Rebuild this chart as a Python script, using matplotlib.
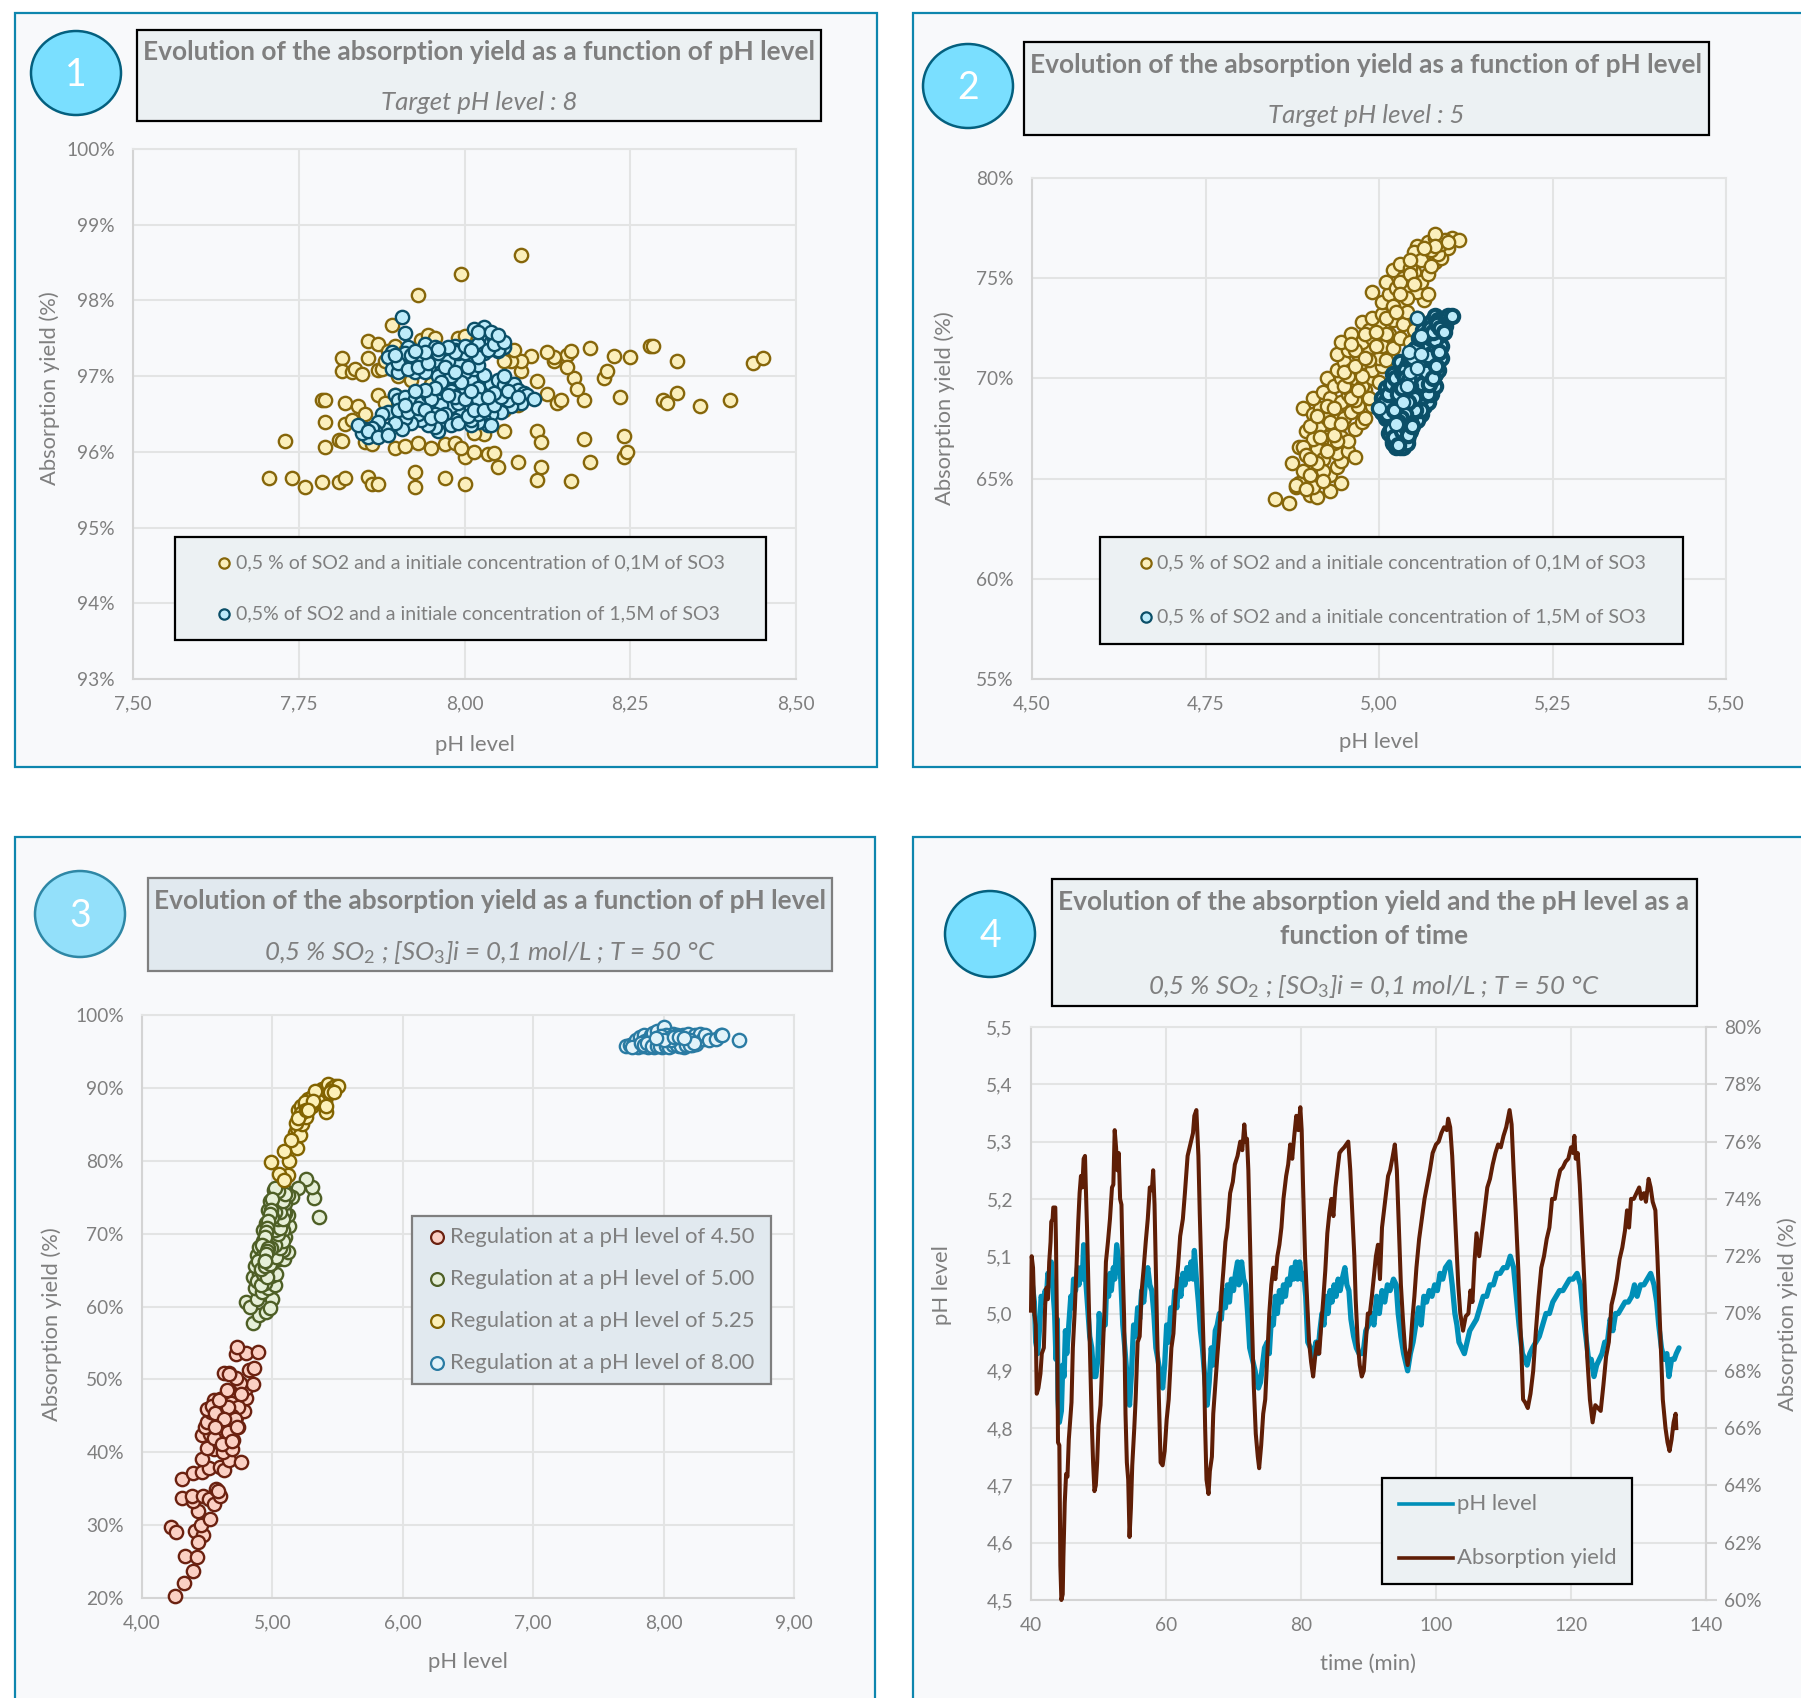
import numpy as np
import matplotlib
matplotlib.use('Agg')
import matplotlib.pyplot as plt
from matplotlib.patches import Rectangle, Ellipse

plt.rcParams['font.family'] = ['Lato', 'DejaVu Sans']
plt.rcParams['mathtext.fontset'] = 'custom'
plt.rcParams['mathtext.rm'] = 'Lato'
plt.rcParams['mathtext.it'] = 'Lato:italic'

W, H = 1801, 1698
GREY = '#7F7F7F'

# chart 1 : target pH 8
p1_low = [(8.085,98.6),(7.995,98.35),(7.93,98.07),(7.705,95.66),(7.74,95.65),(7.76,95.53),(7.785,95.6),(7.81,95.6),
    (7.82,95.65),(7.855,95.67),(7.86,95.58),(7.87,95.58),(7.925,95.53),(7.925,95.73),(7.97,95.65),(8.0,95.57),
    (8.11,95.63),(8.16,95.62),(8.115,95.8),(8.05,95.8),(8.08,95.87),(8.19,95.87),(8.24,95.93),(8.245,96.0),
    (8.0,95.93),(8.015,96.0),(8.035,95.97),(8.045,95.98),(7.73,96.14),(7.79,96.07),(7.81,96.16),(7.815,96.15),
    (7.79,96.4),(7.82,96.37),(7.785,96.69),(7.79,96.69),(7.82,96.65),(7.84,96.6),(7.87,96.75),(7.895,96.75),
    (7.85,96.13),(7.86,96.1),(7.895,96.05),(7.91,96.08),(7.93,96.12),(7.95,96.05),(7.97,96.11),(7.985,96.12),
    (7.995,96.05),(8.11,96.27),(8.115,96.13),(8.18,96.17),(8.24,96.21),(8.03,96.24),(8.06,96.27),(8.015,96.25),
    (8.11,96.94),(8.125,96.77),(8.14,96.64),(8.145,96.68),(8.18,96.69),(8.165,96.97),(8.17,96.83),(8.21,96.97),
    (8.215,97.07),(8.235,96.73),(8.3,96.69),(8.305,96.64),(8.32,96.78),(8.355,96.6),(8.4,96.68),(8.435,97.18),
    (8.45,97.24),(8.32,97.2),(8.28,97.4),(8.285,97.4),(8.25,97.25),(8.225,97.26),(8.19,97.37),(8.155,97.28),
    (8.16,97.33),(8.135,97.2),(8.135,97.25),(8.155,97.12),(8.125,97.32),(8.1,97.26),(8.085,97.07),(8.085,97.2),
    (8.07,97.2),(8.075,97.35),(8.06,97.2),(7.815,97.24),(7.815,97.07),(7.83,97.05),(7.835,97.1),(7.845,97.03),
    (7.855,97.24),(7.855,97.46),(7.87,97.43),(7.87,97.08),(7.875,97.1),(7.88,97.2),(7.885,97.33),(7.895,97.4),
    (7.89,97.67),(7.91,97.33),(7.935,97.48),(7.945,97.54),(7.955,97.5),(7.99,97.5),(8.0,97.53),(8.02,97.5),
    (7.83,96.42),(7.85,96.5),(7.88,96.65),(8.06,96.55),(8.08,96.62),(8.03,96.62),(7.9,97.0),(7.92,96.95),(7.95,96.9)]
p1_high = [(7.905,97.78),(7.91,97.57),(7.915,97.38),(7.89,97.32),(7.885,97.25),(7.89,97.1),(7.9,97.05),(7.905,97.2),
    (7.91,97.3),(7.92,97.15),(7.925,97.05),(7.93,97.22),(7.935,97.35),(7.94,97.42),(7.95,97.3),(7.955,97.1),
    (7.96,97.2),(7.965,97.05),(7.97,97.35),(7.98,97.28),(7.985,97.4),(7.99,97.25),(7.995,97.15),(8.0,97.3),
    (8.005,97.38),(8.01,97.2),(8.015,97.32),(8.02,97.42),(8.025,97.6),(8.03,97.65),(8.035,97.55),(8.04,97.45),
    (8.045,97.5),(8.05,97.48),(8.055,97.42),(8.06,97.38),(8.05,97.33),(8.03,97.3),(8.015,97.62),(8.02,97.58),
    (7.895,96.75),(7.9,96.68),(7.91,96.72),(7.92,96.6),(7.925,96.7),(7.935,96.65),(7.945,96.75),(7.95,96.6),
    (7.96,96.78),(7.965,96.85),(7.975,96.9),(7.97,97.0),(7.98,96.8),(7.99,96.75),(8.0,96.85),(8.01,96.95),
    (8.02,96.85),(8.03,97.0),(8.04,96.9),(8.05,96.95),(8.06,96.88),(8.07,96.85),(8.075,96.9),(8.08,96.82),
    (8.09,96.78),(8.095,96.75),(8.105,96.7),(8.085,96.65),(8.07,96.6),(8.065,96.68),(8.055,96.52),(8.04,96.5),
    (8.03,96.42),(8.035,96.35),(8.02,96.4),(8.01,96.35),(8.0,96.6),(7.995,96.5),(7.985,96.42),(7.975,96.55),
    (7.97,96.4),(7.96,96.28),(7.955,96.33),(7.945,96.35),(7.935,96.42),(7.93,96.5),(7.92,96.38),(7.91,96.45),
    (7.905,96.3),(7.895,96.38),(7.885,96.52),(7.875,96.5),(7.88,96.3),(7.87,96.4),(7.865,96.27),(7.86,96.32),
    (7.855,96.2),(7.85,96.3),(7.845,96.25),(7.84,96.35),(7.855,96.28),(7.87,96.2),(7.885,96.22),
    (7.98,96.6),(7.99,96.65),(8.01,96.58),(8.02,96.7),(7.985,96.72),(7.965,96.62),(7.955,96.5),
    (7.96,97.0),(7.98,97.15),(8.0,97.05),(8.015,97.1),(8.03,97.02),(7.975,96.75),(7.95,96.7),(7.97,96.5),
    (8.01,96.42),(8.04,96.35),(8.0,96.7),(8.02,97.15),(7.99,97.2),(7.975,97.2),(7.94,97.05),(7.96,97.3),
    (7.935,97.25),(7.92,97.28),(7.99,97.3),(7.985,97.35),(8.0,97.3),(8.05,97.35),(8.06,97.0),(8.02,96.5),
    (7.9,96.55),(7.915,96.52),(7.93,96.58),(7.94,96.55),(7.95,96.45),(7.965,96.48),(7.98,96.36),(7.99,96.38),
    (8.005,96.48),(8.015,96.55),(8.03,96.55),(8.045,96.62),(8.055,96.72),(8.065,96.8),(8.08,96.72),(8.045,96.78),
    (8.035,96.72),(8.01,96.8),(7.995,96.92),(7.98,97.0),(7.965,96.92),(7.955,96.85),(7.94,96.82),(7.925,96.8),
    (7.91,96.62),(7.9,97.18),(7.895,97.28),(7.915,97.1),(7.93,97.12),(7.945,97.18),(7.955,97.38),(7.97,97.12),
    (7.985,97.05),(8.005,97.12),(8.02,97.25),(8.035,97.35),(8.045,97.42),(8.06,97.45),(8.04,97.58),(8.05,97.55),
    (7.985,97.32),(8.0,97.4),(8.01,97.35),(7.975,97.38),(7.96,97.36),(7.94,97.32),(7.925,97.33)]

# chart 2 : target pH 5
p2_low = [(4.85,64.0),(4.87,63.8),(4.88,64.6),(4.885,64.8),(4.9,64.2),(4.91,64.1),(4.905,64.6),(4.93,64.4),(4.945,64.8),
    (4.875,65.8),(4.89,65.4),(4.9,65.2),(4.915,65.6),(4.93,65.2),(4.94,65.6),(4.945,65.9),(4.885,66.6),(4.9,66.2),
    (4.91,66.5),(4.92,66.0),(4.93,66.7),(4.94,66.3),(4.955,66.4),(4.965,66.1),(4.895,67.4),(4.905,67.0),(4.915,67.6),
    (4.925,67.1),(4.935,66.8),(4.945,67.1),(4.955,66.9),(4.965,67.5),(4.975,67.8),(4.89,68.5),(4.905,68.2),(4.915,68.5),
    (4.925,68.0),(4.93,68.6),(4.94,68.2),(4.95,68.0),(4.96,68.3),(4.97,68.6),(4.98,68.0),(4.99,68.6),(4.905,69.0),
    (4.92,69.3),(4.93,69.0),(4.945,68.8),(4.955,69.2),(4.965,68.9),(4.98,69.4),(4.925,70.0),(4.935,69.6),(4.945,70.0),
    (4.955,69.5),(4.965,70.0),(4.975,69.6),(4.99,70.0),(5.0,69.8),(4.94,70.4),(4.95,70.8),(4.96,70.4),(4.975,70.8),
    (4.99,70.4),(5.005,70.6),(4.94,71.2),(4.955,71.4),(4.97,71.2),(4.985,71.5),(5.0,71.0),(5.01,70.9),(4.945,71.8),
    (4.96,72.2),(4.975,71.8),(4.99,72.0),(5.005,71.6),(5.02,71.5),(4.975,72.8),(4.985,72.4),(5.0,72.6),(5.015,72.2),
    (5.03,72.0),(5.045,71.8),(4.99,73.0),(5.005,73.2),(5.02,72.9),(5.035,72.7),(5.05,72.4),(4.99,74.3),(5.005,73.8),
    (5.015,74.2),(5.03,73.6),(5.04,73.3),(5.055,73.0),(5.065,73.9),(5.01,74.8),(5.025,74.5),(5.04,74.4),(5.055,74.3),
    (5.07,74.2),(5.02,75.4),(5.035,75.0),(5.05,75.3),(5.06,74.8),(5.07,75.2),(5.03,75.7),(5.045,75.5),(5.06,76.2),
    (5.055,76.6),(5.07,76.0),(5.08,75.8),(5.09,76.0),(5.1,76.5),(5.085,76.2),(5.07,76.8),(5.08,77.0),(5.09,76.7),
    (5.105,77.0),(5.115,76.9),(5.095,76.9),(5.08,77.2),(4.94,66.9),(4.93,67.8),(4.935,67.2),(4.92,65.4),(4.91,65.8),
    (4.9,67.6),(4.89,66.6),(4.88,64.7),(4.895,66.2),(4.915,67.1),(4.925,68.6),(4.95,69.6),(4.955,70.1),(4.965,71.4),
    (4.975,70.1),(4.985,70.9),(4.995,71.6),(5.01,72.2),(5.02,73.6),(5.03,74.8),(5.045,75.2),(5.05,76.3),(5.06,75.9),
    (5.075,76.4),(5.08,76.6),(4.895,64.5),(4.92,64.9),(4.9,66.0),(4.925,66.4),(4.945,67.7),(4.91,68.1),(4.935,68.5),
    (4.96,69.0),(4.97,69.4),(4.985,69.0),(4.95,70.3),(4.965,70.6),(4.98,71.0),(4.96,71.7),(4.98,72.2),(4.995,72.3),
    (5.01,73.0),(5.025,73.3),(5.04,74.0),(5.05,74.7),(5.03,74.2),(5.045,75.9),(5.065,76.5),(5.075,75.6),(5.1,76.8)]
p2_high = [(5.0,68.5),(5.005,69.0),(5.01,68.0),(5.01,69.5),(5.015,67.3),(5.015,68.6),(5.02,66.8),(5.02,67.8),(5.02,69.4),
    (5.02,70.2),(5.025,66.6),(5.025,67.4),(5.025,68.6),(5.03,66.6),(5.03,67.6),(5.03,69.0),(5.03,70.8),(5.035,66.8),
    (5.035,68.0),(5.035,69.8),(5.04,67.0),(5.04,67.8),(5.04,68.6),(5.04,69.6),(5.04,70.6),(5.045,67.4),(5.045,68.4),
    (5.045,69.2),(5.045,70.2),(5.05,68.0),(5.05,68.8),(5.05,69.8),(5.05,70.8),(5.05,71.4),(5.055,68.2),(5.055,69.0),
    (5.055,69.6),(5.055,70.4),(5.055,71.0),(5.06,68.2),(5.06,68.8),(5.06,69.4),(5.06,70.2),(5.06,71.6),(5.065,68.6),
    (5.065,69.2),(5.065,70.0),(5.065,70.6),(5.065,71.2),(5.065,71.8),(5.07,68.8),(5.07,69.4),(5.07,70.0),(5.07,70.8),
    (5.07,71.6),(5.07,72.4),(5.075,69.2),(5.075,69.8),(5.075,70.4),(5.075,71.2),(5.075,72.0),(5.075,72.8),(5.08,69.6),
    (5.08,70.2),(5.08,70.8),(5.08,71.4),(5.08,72.2),(5.08,72.6),(5.08,73.1),(5.085,70.4),(5.085,71.0),(5.085,71.8),
    (5.085,72.4),(5.085,72.9),(5.09,71.0),(5.09,71.6),(5.09,72.2),(5.09,72.7),(5.095,72.6),(5.095,72.9),(5.1,73.1),
    (5.105,73.1),(5.02,68.2),(5.025,69.8),(5.03,68.4),(5.035,67.2),(5.035,69.2),(5.04,69.0),(5.045,67.8),(5.05,69.4),
    (5.055,67.9),(5.06,69.0),(5.07,69.2),(5.075,70.6),(5.03,67.1),(5.04,70.0),(5.05,70.4),(5.06,70.7),(5.07,71.1),
    (5.08,71.9),(5.09,72.4),(5.015,68.0),(5.025,68.0),(5.02,66.9),(5.035,66.6),(5.03,66.9),(5.04,66.8),(5.045,68.0),
    (5.01,68.4),(5.015,69.0),(5.005,68.3),(5.04,68.3),(5.035,68.8),(5.06,68.4),
    (5.012,68.2),(5.018,67.5),(5.022,67.1),(5.028,66.7),(5.033,67.4),(5.037,67.6),(5.042,67.2),(5.048,67.6),(5.052,68.4),
    (5.008,68.8),(5.013,69.2),(5.018,69.7),(5.023,70.0),(5.028,69.4),(5.033,70.3),(5.038,70.4),(5.043,70.9),(5.048,71.0),
    (5.053,71.5),(5.058,72.0),(5.063,72.4),(5.068,72.2),(5.073,72.5),(5.078,72.3),(5.083,72.7),(5.088,72.5),(5.093,72.3),
    (5.058,70.0),(5.062,69.7),(5.068,70.3),(5.072,69.7),(5.078,70.0),(5.082,70.6),(5.087,71.3),(5.05,69.0),(5.045,69.6),
    (5.042,68.8),(5.038,68.2),(5.032,68.0),(5.027,67.8),(5.022,68.4),(5.028,69.2),(5.033,69.5),(5.038,70.0),(5.043,69.9)]
p2_high_top = [(5.0,68.5),(5.025,67.7),(5.04,69.6),(5.035,68.8),(5.045,70.3),(5.043,71.3),(5.055,70.5),(5.06,71.2),(5.06,72.1),(5.055,73.0)]

# chart 3 : regulation at 4 pH levels
p3_450 = [(4.25,20.3),(4.32,22.0),(4.39,23.7),(4.33,25.7),(4.42,25.6),(4.22,29.8),(4.26,29.0),(4.41,29.2),(4.47,28.6),
    (4.43,27.7),(4.45,30.0),(4.52,30.8),(4.43,31.9),(4.31,33.7),(4.39,33.3),(4.38,34.0),(4.47,34.0),(4.51,33.6),
    (4.55,32.9),(4.6,34.0),(4.57,35.0),(4.58,34.7),(4.31,36.3),(4.39,37.1),(4.46,37.3),(4.51,37.8),(4.6,38.0),
    (4.63,37.5),(4.67,39.0),(4.76,38.7),(4.46,39.1),(4.55,40.5),(4.5,40.6),(4.62,40.0),(4.69,40.4),(4.7,41.7),
    (4.6,41.3),(4.46,42.4),(4.52,42.5),(4.56,43.5),(4.52,43.8),(4.48,43.4),(4.58,42.6),(4.64,44.5),(4.72,44.9),
    (4.74,43.5),(4.72,43.5),(4.69,43.3),(4.5,44.2),(4.53,45.5),(4.5,46.0),(4.55,47.2),(4.6,45.9),(4.6,47.3),
    (4.65,48.1),(4.7,47.7),(4.68,46.8),(4.76,45.6),(4.78,45.7),(4.8,47.5),(4.8,48.8),(4.85,49.3),(4.75,49.5),
    (4.72,50.2),(4.67,50.9),(4.63,50.9),(4.67,50.8),(4.82,51.3),(4.86,51.5),(4.72,53.5),(4.8,53.6),(4.73,54.4),
    (4.89,53.7),(4.62,43.8),(4.66,42.8),(4.74,46.2),(4.58,44.8),(4.64,45.6),(4.55,42.0),(4.69,45.0),(4.76,48.0),
    (4.62,46.4),(4.54,46.3),(4.66,46.2),(4.71,44.6),(4.59,47.2),(4.65,48.5),(4.56,45.4),(4.63,44.5),(4.56,43.5),
    (4.61,41.2),(4.69,41.6),(4.73,43.4)]
p3_500 = [(5.36,72.3),(5.32,74.9),(5.3,76.4),(5.26,77.5),(5.2,76.3),(5.15,75.0),(4.85,57.8),(4.9,58.8),(4.95,59.2),
    (4.8,60.6),(4.83,60.0),(4.88,61.0),(5.0,61.0),(4.98,59.8),(4.87,62.5),(4.92,62.0),(4.97,62.5),(5.02,63.0),
    (4.85,64.0),(4.9,64.5),(4.94,63.2),(4.99,64.2),(5.03,64.5),(4.87,65.5),(4.92,66.0),(4.96,65.2),(5.0,66.0),
    (5.05,66.5),(5.09,66.5),(5.12,67.5),(4.88,67.0),(4.92,67.5),(4.96,67.2),(5.0,67.5),(5.04,68.0),(5.08,67.8),
    (5.1,69.5),(5.13,71.0),(4.9,68.2),(4.93,69.0),(4.97,68.8),(5.01,69.2),(5.05,69.5),(5.08,70.5),(5.12,72.5),
    (4.93,70.5),(4.96,70.2),(5.0,70.5),(5.03,71.0),(5.07,71.5),(5.1,72.8),(4.95,71.5),(4.98,72.0),(5.01,72.5),
    (5.05,72.5),(5.09,73.0),(4.97,73.2),(5.0,73.5),(5.03,73.8),(5.06,74.0),(5.1,74.2),(4.98,74.5),(5.02,75.0),
    (5.05,75.2),(5.08,75.5),(5.12,75.3),(5.01,76.0),(5.05,76.3),(5.08,76.2),(5.03,75.5),(5.05,74.8),(5.07,74.8),
    (5.02,74.2),(5.04,73.2),(5.01,71.5),(4.99,70.8),(4.98,70.2),(4.97,69.5),(4.96,69.0),(4.95,68.5),(4.94,67.8),
    (4.93,67.0),(5.0,71.2),(5.02,72.0),(4.98,71.0),(4.97,70.5),(4.96,70.0),(4.955,69.2),(4.95,68.0),(4.94,66.8),
    (4.88,63.5),(4.91,63.0),(4.93,64.5),(4.96,64.0),(4.89,66.2),(4.91,65.2),(4.94,65.5),(4.98,65.8),(5.03,66.8),
    (5.06,68.0),(5.08,69.0),(5.02,68.5),(4.99,68.0),(5.04,70.0),(5.02,70.5),(5.06,70.8),(5.04,72.0),(5.08,72.0),
    (5.06,73.0),(5.02,73.0),(5.0,72.3),(5.04,74.5),(5.06,75.5),(5.08,74.5),(5.1,75.5),(5.04,75.8),(5.02,76.2),
    (5.0,74.8),(4.99,73.2),(4.98,72.7),(4.97,71.8),(4.96,70.8),(4.95,70.2),(4.94,69.5),(4.93,68.3),(4.92,68.5),
    (4.97,68.0),(4.96,67.6),(4.95,67.2),(4.94,66.2),(4.945,66.3)]
p3_525 = [(5.19,81.7),(5.17,83.8),(5.19,84.5),(5.21,83.5),(5.23,85.0),(5.18,85.2),(5.21,86.0),(5.26,86.0),(5.2,87.0),
    (5.22,87.5),(5.25,87.8),(5.28,87.5),(5.3,87.5),(5.33,88.0),(5.27,88.5),(5.3,88.8),(5.34,89.0),(5.36,89.5),(5.38,89.8),
    (5.4,90.0),(5.43,90.5),(5.46,90.0),(5.48,90.2),(5.5,90.2),(5.45,89.6),(5.42,89.0),(5.38,88.8),(5.41,86.7),(5.4,88.2),
    (5.35,88.2),(5.33,89.6),(5.44,89.5),(5.47,89.5),(5.25,88.0),(5.24,86.8),(5.22,86.5),(5.2,85.8),(5.31,88.2),(5.26,87.0),
    (5.13,80.0),(5.12,78.0),(5.09,81.4),(5.14,82.8),(5.05,78.2),(5.09,77.3),(4.99,79.8),(5.27,86.9),(5.41,87.5)]
p3_800 = [(7.71,95.7),(7.74,95.9),(7.77,96.2),(7.79,96.6),(7.8,95.6),(7.82,97.0),(7.84,95.7),(7.85,97.2),(7.86,96.5),
    (7.88,95.6),(7.9,97.2),(7.92,97.5),(7.93,95.6),(7.95,97.8),(7.97,96.5),(7.99,95.6),(8.0,98.35),(8.01,96.2),
    (8.03,97.0),(8.05,95.8),(8.07,97.4),(8.08,96.0),(8.1,97.3),(8.12,95.7),(8.13,96.6),(8.15,97.3),(8.16,95.6),
    (8.18,96.2),(8.19,97.4),(8.22,95.9),(8.24,97.3),(8.25,96.0),(8.28,97.4),(8.3,96.7),(8.32,97.2),(8.35,96.6),
    (8.4,96.7),(8.44,97.2),(8.45,97.25),(8.58,96.6),(7.76,95.6),(7.83,96.1),(7.9,96.0),(7.94,96.2),(8.0,95.9),
    (8.04,96.4),(8.09,96.4),(8.14,96.1),(8.2,96.6),(8.02,97.3),(7.98,97.1),(8.06,97.0),(7.85,95.9),(7.87,96.1),
    (7.91,95.7),(7.95,95.8),(7.97,95.7),(8.02,95.7),(8.04,95.6),(8.07,95.9),(8.1,95.9),(8.13,95.8),(8.17,95.9),
    (8.2,95.9),(8.23,96.1),(8.06,96.6),(8.0,96.6),(7.94,96.8),(8.08,97.0),(8.12,97.0),(8.16,96.9)]

# chart 4 : time series
ph_level = [(40.0,5.00),(40.2,5.05),(40.5,5.02),(40.7,4.95),(41.0,4.93),(41.3,4.98),(41.5,5.03),(41.8,5.02),(42.1,5.04),
    (42.3,5.03),(42.5,5.07),(42.7,5.05),(43.0,5.09),(43.2,5.05),(43.5,5.0),(43.7,4.92),(43.9,4.99),(44.0,4.85),(44.2,4.81),(44.5,4.83),
    (44.7,4.91),(44.9,4.89),(45.1,4.97),(45.3,4.93),(45.6,4.98),(45.9,5.03),(46.1,5.01),(46.3,5.06),(46.6,5.04),(46.9,5.08),(47.1,5.05),
    (47.4,5.08),(47.6,5.06),(47.8,5.12),(48.1,5.06),(48.4,5.01),(48.7,4.96),(49.0,4.94),(49.3,4.89),(49.6,4.89),(49.9,4.92),(50.1,5.0),
    (50.4,4.95),(50.7,4.98),(51.0,4.98),(51.2,5.05),(51.5,5.03),(51.7,5.07),(51.9,5.04),(52.2,5.08),(52.4,5.06),(52.7,5.12),(53.0,5.09),
    (53.3,5.06),(53.6,4.98),(53.9,4.94),(54.3,4.88),(54.6,4.84),(54.9,4.9),(55.2,4.98),(55.5,4.96),(55.8,5.01),(56.1,4.99),
    (56.4,5.04),(56.7,5.02),(57.0,5.06),(57.3,5.08),(57.6,5.05),(57.9,5.04),(58.2,5.0),(58.5,4.94),(58.8,4.92),(59.2,4.89),
    (59.5,4.87),(59.8,4.91),(60.1,4.98),(60.4,4.95),(60.7,5.01),(61.0,4.99),(61.3,5.04),(61.6,5.01),(61.9,5.06),(62.2,5.03),
    (62.5,5.07),(62.8,5.05),(63.1,5.08),(63.4,5.06),(63.7,5.09),(64.0,5.06),(64.2,5.11),(64.5,5.06),(64.8,5.02),(65.1,4.97),
    (65.4,4.94),(65.8,4.88),(66.1,4.84),(66.4,4.88),(66.7,4.94),(67.0,4.91),(67.3,4.97),(67.6,4.98),(67.9,5.0),(68.2,4.99),
    (68.5,5.04),(68.8,5.01),(69.1,5.05),(69.4,5.02),(69.7,5.06),(70.0,5.04),(70.3,5.07),(70.6,5.09),(70.8,5.05),(71.2,5.09),
    (71.5,5.06),(71.8,5.05),(72.1,5.0),(72.4,4.94),(72.8,4.92),(73.2,4.9),(73.7,4.87),(74.0,4.88),(74.3,4.91),(74.6,4.94),
    (75.0,4.95),(75.3,4.93),(75.6,4.99),(75.9,4.98),(76.2,5.03),(76.5,5.0),(76.8,5.04),(77.1,5.02),(77.4,5.05),(77.7,5.03),
    (78.0,5.06),(78.3,5.05),(78.6,5.08),(78.9,5.06),(79.2,5.09),(79.5,5.06),(79.8,5.09),(80.1,5.06),(80.4,5.07),(80.7,5.03),
    (81.0,4.95),(81.4,4.94),(81.8,4.92),(82.2,4.95),(82.5,4.93),(82.8,4.97),(83.1,5.0),(83.4,4.98),(83.7,5.03),(84.0,5.0),
    (84.3,5.04),(84.6,5.02),(84.9,5.05),(85.2,5.03),(85.5,5.06),(85.8,5.04),(86.1,5.06),(86.5,5.08),(86.8,5.05),(87.1,5.04),
    (87.4,4.99),(87.8,4.96),(88.2,4.94),(88.6,4.93),(89.0,4.93),(89.3,4.94),(89.6,4.97),(90.0,4.98),(90.4,5.0),(90.8,4.98),
    (91.2,5.03),(91.6,5.0),(92.0,5.04),(92.4,5.02),(92.8,5.05),(93.2,5.04),(93.7,5.06),(94.1,5.05),(94.4,5.0),(94.8,4.96),
    (95.2,4.93),(95.6,4.91),(95.8,4.9),(96.2,4.93),(96.6,4.95),(97.0,4.98),(97.4,5.01),(97.8,4.98),(98.2,5.03),(98.6,5.02),
    (99.0,5.04),(99.4,5.03),(99.8,5.05),(100.2,5.04),(100.6,5.07),(101.0,5.06),(101.4,5.08),(102.0,5.09),(102.4,5.05),
    (102.8,5.0),(103.1,4.98),(103.4,4.95),(103.8,4.94),(104.2,4.93),(104.6,4.95),(105.0,4.97),(105.5,4.98),(106.0,4.99),
    (106.5,5.01),(107.0,5.03),(107.5,5.03),(108.0,5.05),(108.5,5.05),(109.0,5.07),(109.5,5.07),(110.0,5.08),(110.5,5.08),
    (111.0,5.1),(111.5,5.08),(111.9,5.03),(112.3,4.98),(112.8,4.93),(113.2,4.92),(113.5,4.91),(113.9,4.93),(114.3,4.94),
    (114.8,4.95),(115.3,4.96),(115.8,4.98),(116.3,5.0),(116.8,5.0),(117.3,5.02),(117.8,5.03),(118.3,5.04),(118.8,5.04),
    (119.3,5.05),(119.8,5.06),(120.3,5.06),(120.9,5.07),(121.4,5.05),(121.8,5.0),(122.2,4.96),(122.6,4.92),(123.0,4.92),
    (123.4,4.89),(123.8,4.91),(124.2,4.92),(124.6,4.93),(125.0,4.95),(125.4,4.95),(125.8,4.99),(126.2,4.97),(126.6,5.0),
    (127.0,5.0),(127.5,5.01),(128.0,5.02),(128.5,5.02),(129.0,5.03),(129.4,5.05),(129.8,5.03),(130.3,5.05),(130.8,5.05),
    (131.3,5.06),(131.8,5.07),(132.3,5.05),(132.7,5.02),(133.0,4.98),(133.4,4.94),(133.8,4.92),(134.2,4.93),(134.5,4.89),
    (134.9,4.92),(135.3,4.92),(135.6,4.93),(136.0,4.94)]
abs_yield = [(40.0,70.1),(40.1,72.0),(40.3,71.6),(40.5,70.0),(40.7,69.6),(40.85,67.2),(41.1,67.4),(41.4,67.9),(41.6,68.6),
    (41.9,68.8),(42.1,70.3),(42.3,70.9),(42.5,70.5),(42.7,71.8),(42.9,72.5),(43.0,73.2),(43.2,73.3),(43.3,73.7),(43.6,73.7),
    (43.7,72.5),(43.8,70.5),(43.9,68.5),(44.0,65.5),(44.2,65.4),(44.35,61.2),(44.5,60.0),(44.7,60.2),(44.8,61.5),(45.0,63.4),
    (45.2,64.4),(45.4,64.3),(45.6,65.6),(46.0,66.9),(46.2,68.8),(46.5,70.2),(46.8,72.0),(47.0,73.2),(47.2,74.2),(47.4,74.8),
    (47.6,74.4),(47.8,75.4),(48.0,75.5),(48.1,74.6),(48.3,73.0),(48.5,71.0),(48.7,69.0),(49.0,66.2),(49.2,64.8),(49.4,63.8),
    (49.6,64.0),(49.8,64.8),(50.0,66.1),(50.3,66.8),(50.6,68.5),(50.9,70.2),(51.1,71.8),(51.4,72.5),(51.7,73.3),(52.0,74.4),
    (52.2,74.5),(52.4,76.4),(52.6,75.8),(52.8,75.0),(53.0,75.6),(53.2,74.0),(53.4,73.8),(53.6,71.5),(53.8,69.8),(54.0,66.5),
    (54.2,64.8),(54.4,64.2),(54.6,62.2),(54.8,63.2),(55.0,64.7),(55.3,66.0),(55.5,67.0),(55.8,69.0),(56.1,69.2),(56.4,70.8),
    (56.7,71.6),(57.0,72.5),(57.3,73.3),(57.6,74.4),(57.9,74.3),(58.1,75.0),(58.3,73.8),(58.5,71.5),(58.7,69.2),(59.0,66.6),
    (59.2,64.8),(59.5,64.7),(59.8,65.2),(60.1,66.3),(60.4,67.0),(60.8,68.8),(61.1,69.3),(61.4,70.6),(61.8,71.7),(62.1,72.7),
    (62.5,73.3),(62.8,74.2),(63.2,75.5),(63.6,75.9),(64.0,76.3),(64.2,76.9),(64.5,77.1),(64.8,75.5),(65.0,73.5),(65.3,71.0),
    (65.6,68.5),(65.8,66.0),(66.0,64.2),(66.3,63.7),(66.5,64.5),(66.8,65.0),(67.0,66.5),(67.3,67.5),(67.6,68.5),(67.9,69.4),
    (68.2,70.6),(68.5,71.5),(68.8,72.5),(69.1,73.0),(69.5,74.2),(69.9,74.6),(70.2,75.2),(70.6,75.5),(71.0,76.0),(71.3,75.7),
    (71.6,76.6),(71.8,76.0),(72.0,76.1),(72.2,75.0),(72.4,73.0),(72.7,70.0),(73.0,67.5),(73.3,65.8),(73.6,65.0),(73.8,64.6),
    (74.1,65.4),(74.4,66.5),(74.7,67.0),(75.0,68.5),(75.3,70.0),(75.6,71.0),(75.9,71.6),(76.2,71.2),(76.5,72.0),(76.8,72.4),
    (77.1,73.0),(77.4,74.0),(77.8,74.8),(78.1,75.2),(78.4,75.9),(78.7,75.4),(79.0,76.2),(79.3,76.9),(79.6,76.4),(79.9,77.2),
    (80.1,76.4),(80.3,74.5),(80.6,72.0),(80.9,70.5),(81.2,69.0),(81.5,68.3),(81.8,67.8),(82.1,68.5),(82.4,69.0),(82.7,68.6),
    (83.0,69.6),(83.3,70.5),(83.6,71.5),(83.9,72.8),(84.2,73.5),(84.5,74.0),(84.8,73.4),(85.1,74.4),(85.4,75.0),(85.7,75.6),
    (86.0,75.7),(86.4,75.8),(86.7,75.9),(87.0,76.0),(87.3,75.0),(87.6,73.5),(87.9,72.0),(88.1,70.5),(88.4,69.0),(88.7,68.2),
    (89.0,67.8),(89.3,68.0),(89.6,69.0),(89.9,70.0),(90.2,70.0),(90.5,70.6),(90.8,71.3),(91.1,72.0),(91.4,72.4),(91.7,71.2),
    (92.0,73.0),(92.3,73.6),(92.6,74.2),(92.9,74.8),(93.2,75.0),(93.6,75.5),(93.9,75.9),(94.2,75.0),(94.5,73.0),(94.8,71.0),
    (95.1,69.8),(95.4,68.8),(95.8,68.2),(96.2,68.8),(96.5,69.8),(96.8,70.6),(97.1,71.6),(97.5,72.6),(97.9,73.3),(98.3,74.0),
    (98.7,74.5),(99.1,75.0),(99.5,75.6),(100.0,75.9),(100.4,76.0),(100.8,76.3),(101.2,76.5),(101.6,76.4),(101.8,76.8),
    (102.1,76.5),(102.4,75.5),(102.7,74.0),(103.0,72.5),(103.3,71.0),(103.6,70.0),(104.0,69.4),(104.4,69.9),(104.8,70.0),
    (105.1,70.8),(105.4,70.4),(105.7,71.8),(106.0,72.8),(106.4,72.0),(106.8,72.8),(107.2,73.6),(107.6,74.4),(108.0,74.7),
    (108.4,75.2),(108.8,75.6),(109.2,75.9),(109.6,75.8),(110.0,76.2),(110.4,76.5),(110.9,77.1),(111.2,76.6),(111.5,75.0),
    (111.8,73.6),(112.2,71.5),(112.6,69.0),(112.9,67.0),(113.2,66.9),(113.6,66.7),(114.0,67.2),(114.4,68.0),(114.8,69.4),
    (115.2,70.6),(115.6,71.6),(116.0,72.0),(116.4,72.6),(116.8,73.0),(117.2,74.0),(117.6,74.0),(118.0,74.6),(118.4,75.0),
    (118.8,75.1),(119.2,75.3),(119.6,75.4),(120.0,75.8),(120.3,75.6),(120.5,76.2),(120.7,75.4),(121.0,75.6),(121.3,74.5),
    (121.6,73.0),(122.0,71.0),(122.4,68.5),(122.8,67.0),(123.2,66.2),(123.6,66.8),(124.0,66.7),(124.4,66.6),(124.8,67.5),
    (125.2,68.5),(125.6,69.0),(126.0,70.3),(126.4,70.7),(126.8,71.2),(127.2,71.9),(127.6,72.3),(128.0,72.9),(128.3,73.6),
    (128.6,73.0),(128.9,74.0),(129.3,74.0),(129.7,74.2),(130.1,74.4),(130.4,74.0),(130.8,74.2),(131.1,73.9),(131.5,74.7),
    (131.8,74.4),(132.1,73.9),(132.5,73.6),(132.8,72.0),(133.2,69.5),(133.6,67.0),(134.0,66.0),(134.3,65.5),(134.6,65.2),
    (134.9,65.6),(135.2,66.2),(135.5,66.5),(135.6,66.0)]

# texts
title_ph = 'Evolution of the absorption yield as a function of pH level'
title_time = ['Evolution of the absorption yield and the pH level as a', 'function of time']
sub_cond = r'0,5 % SO$_{\mathit{2}}$ ; [SO$_{\mathit{3}}$]i = 0,1 mol/L ; T = 50 °C'
legend_p1 = ['0,5 % of SO2 and a initiale concentration of 0,1M of SO3', '0,5% of SO2 and a initiale concentration of 1,5M of SO3']
legend_p2 = ['0,5 % of SO2 and a initiale concentration of 0,1M of SO3', '0,5 % of SO2 and a initiale concentration of 1,5M of SO3']
legend_p3 = ['Regulation at a pH level of 4.50', 'Regulation at a pH level of 5.00', 'Regulation at a pH level of 5.25', 'Regulation at a pH level of 8.00']

fig = plt.figure(figsize=(W / 100, H / 100), dpi=100, facecolor='white')

# whole-figure layer in pixels for frames, boxes and badges
bg = fig.add_axes([0, 0, 1, 1], zorder=0)
bg.set_xlim(0, W)
bg.set_ylim(H, 0)
bg.axis('off')
top = fig.add_axes([0, 0, 1, 1], zorder=10)
top.set_xlim(0, W)
top.set_ylim(H, 0)
top.axis('off')
top.patch.set_alpha(0)

for x0, x1, y0, y1 in [(15, 877, 13, 767), (913, 1810, 13, 767), (15, 875, 837, 1710), (913, 1810, 837, 1710)]:
    bg.add_patch(Rectangle((x0, y0), x1 - x0, y1 - y0, fc='#F8F9FB', ec='#0E86AE', lw=1.6))


def make_axes(x0, x1, y0, y1):
    ax = fig.add_axes([x0 / W, 1 - y1 / H, (x1 - x0) / W, (y1 - y0) / H], zorder=5)
    ax.set_facecolor('none')
    ax.grid(True, color='#E3E4E4', lw=1.5)
    ax.set_axisbelow(True)
    for s in ax.spines.values():
        s.set_color('#E3E4E4')
        s.set_linewidth(1.5)
    ax.spines['left'].set_color('#D4D4D4')
    ax.spines['bottom'].set_color('#D4D4D4')
    ax.tick_params(length=0, labelsize=13.8, labelcolor=GREY)
    ax.tick_params(axis='x', pad=12)
    ax.tick_params(axis='y', pad=13)
    return ax


def set_ticks(ax, xt, xl, yt, yl):
    ax.set_xlim(xt[0], xt[-1])
    ax.set_ylim(yt[0], yt[-1])
    ax.set_xticks(xt, xl)
    ax.set_yticks(yt, yl)


def labels(ax, xlabel, xpos, ylabel, ypos):
    ax.set_xlabel(xlabel, color=GREY, fontsize=15.8)
    ax.set_ylabel(ylabel, color=GREY, fontsize=15.8)
    ax.xaxis.set_label_coords(xpos[0], xpos[1], transform=top.transData)
    ax.yaxis.set_label_coords(ypos[0], ypos[1], transform=top.transData)
    ax.xaxis.label.set_va('center')
    ax.yaxis.label.set_va('center')


def scatter(ax, pts, fc, ec, lw=1.7):
    a = np.array(pts)
    ax.scatter(a[:, 0], a[:, 1], s=92, fc=fc, ec=ec, lw=lw, zorder=3, clip_on=False)


def box(x0, x1, y0, y1, fc='#ECF1F3', ec='black'):
    top.add_patch(Rectangle((x0, y0), x1 - x0, y1 - y0, fc=fc, ec=ec, lw=1.6))


def badge(cx, cy, rx, ry, num, fc='#7ADFFF', ec='#04607F'):
    top.add_patch(Ellipse((cx, cy), 2 * rx, 2 * ry, fc=fc, ec=ec, lw=1.8))
    top.text(cx, cy + 2, num, color='white', fontsize=27, ha='center', va='center')


def title(cx, ys, lines, sub, suby):
    for y, line in zip(ys, lines):
        top.text(cx, y, line, color=GREY, fontsize=18.9, fontweight='bold', ha='center', va='center')
    top.text(cx, suby, sub, color=GREY, fontsize=18.6, style='italic', ha='center', va='center')


def key(x, y, fc, ec, size=55):
    top.scatter([x], [y], s=size, fc=fc, ec=ec, lw=1.6)


GOLD_F, GOLD_E = '#FBEFBC', '#86660A'
TEAL_F, TEAL_E = '#BDEBFA', '#0B4F68'

# chart 1
ax1 = make_axes(133, 796, 149, 679)
set_ticks(ax1, [7.5, 7.75, 8.0, 8.25, 8.5], ['7,50', '7,75', '8,00', '8,25', '8,50'],
          list(range(93, 101)), ['93%', '94%', '95%', '96%', '97%', '98%', '99%', '100%'])
scatter(ax1, p1_low, GOLD_F, GOLD_E)
scatter(ax1, p1_high, TEAL_F, TEAL_E)
labels(ax1, 'pH level', (475, 745), 'Absorption yield (%)', (50, 388))
badge(76, 73, 45, 42, '1')
box(137, 821, 30, 121)
title(479, [52], [title_ph], 'Target pH level : 8', 102)
box(175, 766, 537, 640)
key(224, 563, GOLD_F, GOLD_E)
key(224, 614, TEAL_F, TEAL_E)
top.text(236, 563, legend_p1[0], color=GREY, fontsize=14, va='center')
top.text(236, 614, legend_p1[1], color=GREY, fontsize=14, va='center')

# chart 2
ax2 = make_axes(1032, 1726, 178, 679)
set_ticks(ax2, [4.5, 4.75, 5.0, 5.25, 5.5], ['4,50', '4,75', '5,00', '5,25', '5,50'],
          list(range(55, 81, 5)), ['55%', '60%', '65%', '70%', '75%', '80%'])
scatter(ax2, p2_low, GOLD_F, GOLD_E)
scatter(ax2, p2_high, TEAL_F, TEAL_E, lw=3.0)
scatter(ax2, p2_high_top, TEAL_F, TEAL_E)
labels(ax2, 'pH level', (1379, 742), 'Absorption yield (%)', (945, 408))
badge(968, 86, 45, 42, '2')
box(1024, 1709, 42, 135)
title(1366, [65], [title_ph], 'Target pH level : 5', 115)
box(1100, 1683, 537, 644)
key(1146, 563, GOLD_F, GOLD_E)
key(1146, 617, TEAL_F, TEAL_E)
top.text(1157, 563, legend_p2[0], color=GREY, fontsize=14, va='center')
top.text(1157, 617, legend_p2[1], color=GREY, fontsize=14, va='center')

# chart 3
ax3 = make_axes(142, 794, 1015, 1598)
set_ticks(ax3, [4, 5, 6, 7, 8, 9], ['4,00', '5,00', '6,00', '7,00', '8,00', '9,00'],
          list(range(20, 101, 10)), ['20%', '30%', '40%', '50%', '60%', '70%', '80%', '90%', '100%'])
colors3 = [('#FBD0C4', '#6B2110'), ('#E6EFD8', '#4E5F26'), ('#FCF0B8', '#826300'), ('#E2F3FA', '#2A7BA3')]
for pts, (fc, ec) in zip([p3_450, p3_500, p3_525, p3_800], colors3):
    scatter(ax3, pts, fc, ec)
labels(ax3, 'pH level', (468, 1662), 'Absorption yield (%)', (52, 1324))
badge(80, 914, 45, 43, '3', fc='#93E0FA', ec='#2E87A5')
box(148, 832, 878, 971, fc='#E1E9EF', ec=GREY)
title(490, [901], [title_ph], sub_cond, 952)
box(412, 771, 1216, 1384, fc='#E1E9EF', ec=GREY)
for y, text, (fc, ec) in zip([1237, 1279, 1321, 1363], legend_p3, colors3):
    key(437, y, fc, ec, size=85)
    top.text(450, y, text, color=GREY, fontsize=15.8, va='center')

# chart 4
ax4 = make_axes(1031, 1706, 1027, 1600)
ph_ticks = [4.5, 4.6, 4.7, 4.8, 4.9, 5.0, 5.1, 5.2, 5.3, 5.4, 5.5]
set_ticks(ax4, [40, 60, 80, 100, 120, 140], ['40', '60', '80', '100', '120', '140'],
          ph_ticks, ['4,5', '4,6', '4,7', '4,8', '4,9', '5,0', '5,1', '5,2', '5,3', '5,4', '5,5'])
ph = np.array(ph_level)
ax4.plot(ph[:, 0], ph[:, 1], color='#008FB8', lw=3.8, solid_joinstyle='round', solid_capstyle='round', label='pH level')
ax4b = ax4.twinx()
ax4b.set_facecolor('none')
ax4b.set_ylim(60, 80)
ax4b.set_yticks(list(range(60, 81, 2)), [f'{v}%' for v in range(60, 81, 2)])
ax4b.tick_params(length=8, width=1.5, color='#D4D4D4', labelsize=13.8, labelcolor=GREY, pad=5)
for s in ax4b.spines.values():
    s.set_visible(False)
ax4b.spines['right'].set_visible(True)
ax4b.spines['right'].set_color('#D4D4D4')
ax4b.spines['right'].set_linewidth(1.5)
ay = np.array(abs_yield)
ax4b.plot(ay[:, 0], ay[:, 1], color='#5F1E06', lw=2.9, solid_joinstyle='round', label='Absorption yield', clip_on=False)
labels(ax4, 'time (min)', (1368, 1664), 'pH level', (942, 1285))
ax4b.set_ylabel('Absorption yield (%)', color=GREY, fontsize=15.8, rotation=90, va='center')
ax4b.yaxis.set_label_coords(1788, 1314, transform=top.transData)
badge(990, 934, 45, 43, '4')
box(1052, 1697, 879, 1006)
title(1374, [902, 936], title_time, sub_cond, 986)
box(1382, 1632, 1478, 1584)
top.plot([1399, 1453], [1504, 1504], color='#008FB8', lw=2.6)
top.plot([1399, 1453], [1558, 1558], color='#5F1E06', lw=2.6)
top.text(1457, 1504, 'pH level', color=GREY, fontsize=15.9, va='center')
top.text(1457, 1558, 'Absorption yield', color=GREY, fontsize=15.9, va='center')

fig.savefig('out.png', dpi=100)
